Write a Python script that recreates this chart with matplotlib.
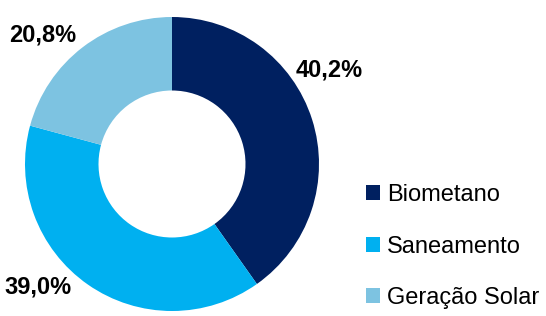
import matplotlib
matplotlib.use('Agg')
import matplotlib.pyplot as plt

categories = ['Biometano', 'Saneamento', 'Geração Solar']
values = [40.2, 39.0, 20.8]
pct_labels = ['40,2%', '39,0%', '20,8%']
colors = ['#002060', '#00B0F0', '#7DC3E1']

# label spots (data coords, pie radius = 1)
label_pos = [(1.07, 0.64), (-0.91, -0.84), (-0.88, 0.88)]

plt.rcParams['font.family'] = ['Liberation Sans Narrow', 'Liberation Sans', 'DejaVu Sans']

fig = plt.figure(figsize=(5.46, 3.16), dpi=100)
cx, cy, r = 172, 164, 147
ax = fig.add_axes([(cx - r) / 546, (316 - cy - r) / 316, 2 * r / 546, 2 * r / 316])

wedges, _ = ax.pie(values, colors=colors, startangle=90, counterclock=False,
                   radius=1, wedgeprops=dict(width=0.5, linewidth=0))
ax.set_xlim(-1, 1)
ax.set_ylim(-1, 1)
ax.set_aspect('equal')
ax.axis('off')

for (x, y), txt in zip(label_pos, pct_labels):
    ax.text(x, y, txt, ha='center', va='center', fontsize=17, fontweight='bold',
            clip_on=False)

fig.legend(wedges, categories, loc='upper left', bbox_to_anchor=(366 / 546, 1 - 184 / 316),
           frameon=False, fontsize=17, handlelength=0.6, handleheight=0.6,
           handletextpad=0.3, labelspacing=1.25, borderpad=0, borderaxespad=0)

fig.savefig('out.png', dpi=100)
